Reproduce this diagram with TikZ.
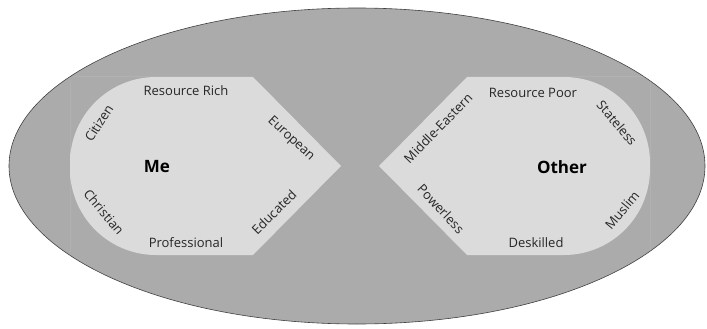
\documentclass[tikz,border=0pt]{standalone}
\usepackage{fontspec}
\setmainfont{Open Sans}
\definecolor{outergray}{HTML}{ABABAB}
\definecolor{innergray}{HTML}{DBDBDB}
\definecolor{inktext}{HTML}{262626}
\begin{document}
\begin{tikzpicture}[x=1pt,y=-1pt,
    trait/.style={font=\fontsize{13}{15}\selectfont,text=inktext,inner sep=1pt},
    who/.style={font=\fontsize{17}{19}\selectfont\bfseries,text=black}]
  \useasboundingbox (0,0) rectangle (707,329);
  % outer ellipse
  \draw[fill=outergray,draw=black!75,line width=0.6pt] (357,166) ellipse [x radius=348,y radius=158];
  % the two fields
  \fill[innergray] (70,166) [rounded corners=86pt] -- (70,77) -- (160,77)
    [sharp corners] -- (253,77) -- (341,166) -- (253,255) -- (160,255)
    [rounded corners=86pt] -- (70,255) -- cycle;
  \fill[innergray] (650,166) [rounded corners=86pt] -- (650,77) -- (560,77)
    [sharp corners] -- (467,77) -- (379,166) -- (467,255) -- (560,255)
    [rounded corners=86pt] -- (650,255) -- cycle;
  % Me
  \node[who] (me) at (157,167) {Me};
  \node[trait] (rich) at (186,91) {Resource Rich};
  \node[trait,rotate=57] (citizen) at (99,123) {Citizen};
  \node[trait,rotate=-50] (christian) at (104,212) {Christian};
  \node[trait] (prof) at (186,243) {Professional};
  \node[trait,rotate=45] (educated) at (274,212) {Educated};
  \node[trait,rotate=-43] (european) at (291,139) {European};
  % Other
  \node[who] (other) at (562,167) {Other};
  \node[trait] (poor) at (533,93) {Resource Poor};
  \node[trait,rotate=46] (mideast) at (438,128) {Middle-Eastern};
  \node[trait,rotate=-50] (stateless) at (617,123) {Stateless};
  \node[trait,rotate=-47] (powerless) at (441,209) {Powerless};
  \node[trait] (deskilled) at (536,243) {Deskilled};
  \node[trait,rotate=50] (muslim) at (622,210) {Muslim};
\end{tikzpicture}
\end{document}
